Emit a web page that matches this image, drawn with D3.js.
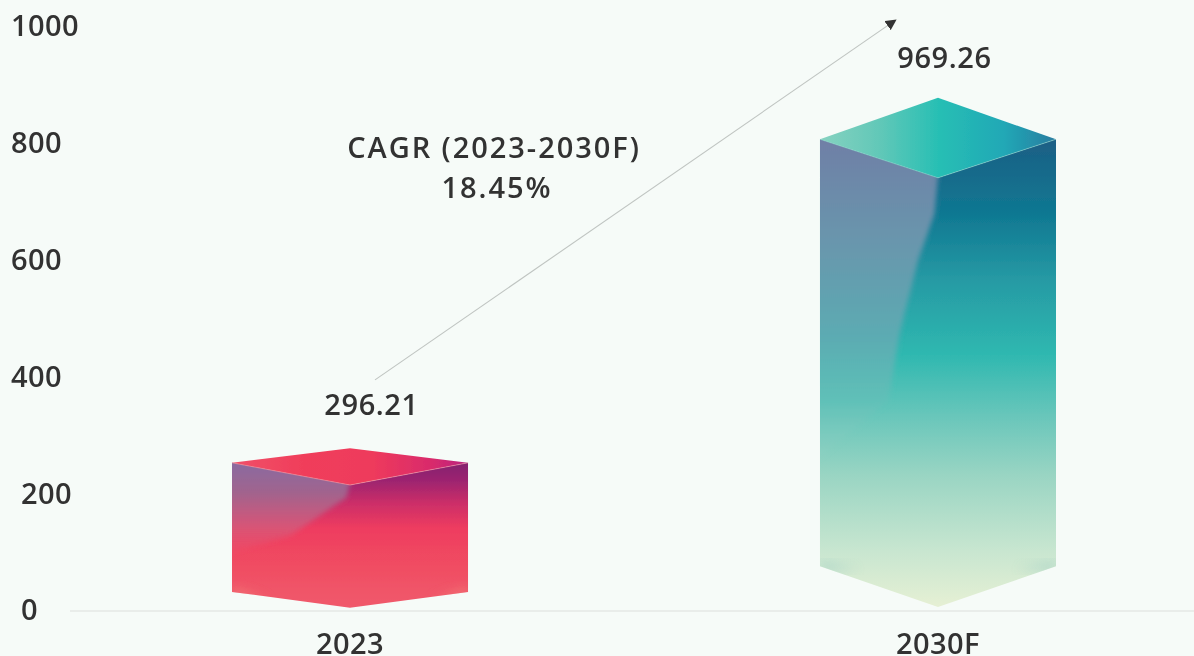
<!DOCTYPE html>
<html><head><meta charset="utf-8">
<script src="https://cdnjs.cloudflare.com/ajax/libs/d3/7.8.5/d3.min.js"></script>
<style>
html,body{margin:0;padding:0;background:#f6fbf8;overflow:hidden}
svg{display:block}
text{font-family:"Open Sans",sans-serif;font-weight:600;fill:#333;filter:url(#soft)}
</style></head><body>
<script>
// ---- data ----
const categories = ["2023", "2030F"];
const valueLabels = ["296.21", "969.26"];
const shoulderValues = [252, 806];   // side corners of the top face
const apexValues = [277, 877];       // back corner of the top face
const ridgeValues = [214, 740];      // front corner of the top face
const baseShoulderValues = [31, 75]; // side corners of the bottom edge
const baseTipValues = [4, 5];        // lowest point of the bottom edge
const tickValues = [0, 200, 400, 600, 800, 1000];
const annotationLines = ["CAGR (2023-2030F)", "18.45%"];

// ---- layout and style ----
const W = 1194, H = 656, FS = 29;
const x = d3.scaleBand().domain(categories).range([232, 1056]).paddingInner(0.5986);
const y = d3.scaleLinear().domain([0, 1000]).range([610, 26]);
const tickLeft = {0:21, 200:21, 400:11, 600:11, 800:11, 1000:11};
const themes = [
 {body:[[0,"#84206e"],[.12,"#9c2470"],[.28,"#cc2e68"],[.45,"#ee3c60"],[.7,"#f04c62"],[1,"#f05a6c"]],
  face:[[0,"#8a6aa0",1],[.2,"#a0648e",1],[.42,"#d05a7c",.9],[.62,"#ee4e68",.5],[.8,"#f04e66",0]],
  top:[[0,"#f0506a"],[.3,"#f03e5a"],[.6,"#ee3a5c"],[.85,"#d82a6c"],[1,"#b82480"]],
  edge:"#f5a0a8",
  // boundary of the pale left face: share of half width left of the ridge, share of body height
  boundary:[[0,.13],[.03,.24],[.25,.36],[.5,.5],[1,.62]],
  corner:"#f48a80", cornerY:.96},
 {body:[[0,"#1c5f85"],[.16,"#0f7892"],[.3,"#269aa4"],[.46,"#2fb8b0"],[.6,"#6cc7bb"],[.72,"#9ad5c3"],[.88,"#c8e6d0"],[1,"#e6f0d4"]],
  face:[[0,"#6f7fa6",1],[.2,"#6a94ac",1],[.42,"#5cabb2",1],[.56,"#62c0b8",.8],[.72,"#a0d8c6",.2],[.85,"#d0e8d2",0]],
  top:[[0,"#86d2c0"],[.25,"#62c8b8"],[.5,"#28bfb4"],[.78,"#20a8b6"],[1,"#2a7ca0"]],
  edge:"#8fd6cc",
  boundary:[[0,.08],[.03,.16],[.17,.26],[.32,.41],[.42,.56],[1,.68]],
  corner:"#9ccdc4", cornerY:.91}
];

const svg = d3.select("body").append("svg").attr("width", W).attr("height", H);
const defs = svg.append("defs");
const soft = defs.append("filter").attr("id","soft").attr("x","-5%").attr("y","-20%").attr("width","110%").attr("height","140%");
soft.append("feGaussianBlur").attr("stdDeviation",0.5);
const blur = defs.append("filter").attr("id","blur");
blur.append("feGaussianBlur").attr("stdDeviation",2.5);
const blur2 = defs.append("filter").attr("id","blur2").attr("x","-50%").attr("y","-50%").attr("width","200%").attr("height","200%");
blur2.append("feGaussianBlur").attr("stdDeviation",6);
const bsoft = defs.append("filter").attr("id","bsoft").attr("x","-5%").attr("y","-5%").attr("width","110%").attr("height","110%");
bsoft.append("feGaussianBlur").attr("stdDeviation",0.6);
defs.append("marker").attr("id","arrow").attr("viewBox","0 0 10 10").attr("refX",6).attr("refY",5)
  .attr("markerWidth",11).attr("markerHeight",11).attr("markerUnits","userSpaceOnUse").attr("orient","auto")
  .append("path").attr("d","M0,0L10,5L0,10Z").attr("fill","#333");

function grad(id, stops, x1, y1, x2, y2){
  const g = defs.append("linearGradient").attr("id",id).attr("gradientUnits","userSpaceOnUse")
    .attr("x1",x1).attr("y1",y1).attr("x2",x2).attr("y2",y2);
  stops.forEach(s=>g.append("stop").attr("offset",s[0]).attr("stop-color",s[1]).attr("stop-opacity",s[2]===undefined?1:s[2]));
}
const poly = pts => "M" + pts.map(p=>p.join(",")).join("L") + "Z";

// baseline
svg.append("line").attr("x1",70).attr("x2",W).attr("y1",y(0)+1).attr("y2",y(0)+1)
  .attr("stroke","#dcdfdc").attr("stroke-width",1.2);

// bars
categories.forEach((c,i)=>{
  const L = x(c), R = L + x.bandwidth(), M = (L+R)/2, hw = x.bandwidth()/2;
  const sy = y(shoulderValues[i]), ay = y(apexValues[i]), ry = y(ridgeValues[i]);
  const by = y(baseShoulderValues[i]), ty = y(baseTipValues[i]);
  const bodyH = ty - sy, th = themes[i];
  grad("body"+i, th.body, 0, sy, 0, ty);
  grad("face"+i, th.face, 0, sy, 0, ty);
  grad("top"+i, th.top, L, sy, R, sy);
  const g = svg.append("g").attr("filter","url(#bsoft)");
  const body = [[L,sy],[M,ry],[R,sy],[R,by],[M,ty],[L,by]];
  defs.append("clipPath").attr("id","clip"+i).append("path").attr("d",poly(body));
  g.append("path").attr("d",poly(body)).attr("fill",`url(#body${i})`);
  const clipped = g.append("g").attr("clip-path",`url(#clip${i})`);
  const edge = th.boundary.map(b=>[M-hw*b[0], sy+bodyH*b[1]]);
  clipped.append("path").attr("d",poly([[L-20,sy-20],[M,sy-20]].concat(edge).concat([[L-20,edge[edge.length-1][1]]])))
    .attr("fill",`url(#face${i})`).attr("filter","url(#blur)");
  // muted lower corners
  const cy = sy + bodyH*th.cornerY;
  [[L,L+hw*.33],[R,R-hw*.33]].forEach(p=>{
    clipped.append("path").attr("d",poly([[p[0],by+4],[p[0],by-4],[p[1],by+(cy-by)*.5+4]]))
      .attr("fill",th.corner).attr("opacity",.8).attr("filter","url(#blur2)");
  });
  g.append("path").attr("d",poly([[L,sy],[M,ay],[R,sy],[M,ry]])).attr("fill",`url(#top${i})`);
  g.append("path").attr("d",`M${L},${sy}L${M},${ry}L${R},${sy}`).attr("fill","none")
    .attr("stroke",th.edge).attr("stroke-width",1).attr("opacity",.55);
  // value label
  svg.append("text").attr("x",M+(i?6.5:21.5)).attr("y",y(+valueLabels[i])+(i?24:-22))
    .attr("text-anchor","middle").attr("font-size",FS).attr("letter-spacing",.6).text(valueLabels[i]);
  // category label
  svg.append("text").attr("x",M).attr("y",y(0)+44).attr("text-anchor","middle")
    .attr("font-size",FS).attr("letter-spacing",.4).text(c);
});

// y axis
const axis = svg.append("g").call(d3.axisLeft(y).tickValues(tickValues).tickSize(0).tickFormat(d3.format("d")));
axis.select(".domain").remove();
axis.selectAll("text").attr("x",d=>tickLeft[d]).attr("dy","0.34em").attr("text-anchor","start")
  .attr("font-size",FS).attr("font-family",'"Open Sans",sans-serif').attr("letter-spacing",.4);

// growth arrow
svg.append("line")
  .attr("x1",x(categories[0])+x.bandwidth()/2+25).attr("y1",y(394))
  .attr("x2",x(categories[1])+x.bandwidth()/2-45).attr("y2",y(1007))
  .attr("stroke","#bfc4c1").attr("stroke-width",1.1).attr("marker-end","url(#arrow)");

// annotation
annotationLines.forEach((t,i)=>{
  svg.append("text").attr("x",i?497:494).attr("y",158+i*40).attr("text-anchor","middle")
    .attr("font-size",FS).attr("letter-spacing",1.95).text(t);
});
</script>
</body></html>
